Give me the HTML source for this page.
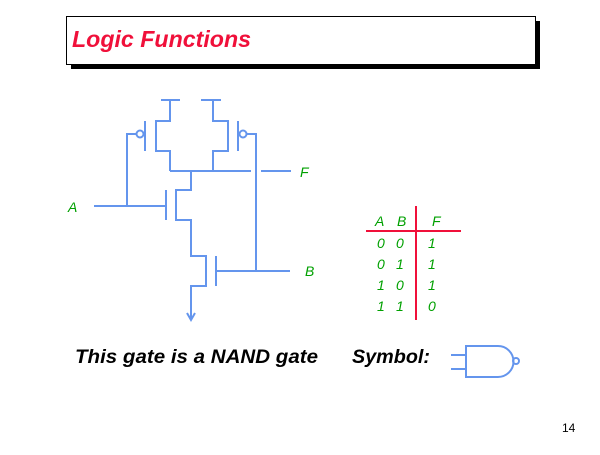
<!DOCTYPE html>
<html><head><style>
body{margin:0;width:600px;height:450px;background:#fff;overflow:hidden}
</style></head><body>
<svg width="600" height="450" xmlns="http://www.w3.org/2000/svg" font-family="Liberation Sans, sans-serif">
<rect x="71" y="21" width="469" height="48" fill="#000"/>
<rect x="66.5" y="16.5" width="469" height="48" fill="#fff" stroke="#000" stroke-width="1"/>
<text x="72" y="47" font-size="23" font-weight="bold" font-style="italic" fill="#f0103a" textLength="179" lengthAdjust="spacingAndGlyphs">Logic Functions</text>
<g stroke="#6495ed" stroke-width="2" fill="none">
<path d="M161 100H180M201 100H221"/>
<path d="M170 100V121H156V151H170V171"/>
<path d="M145 121V151"/>
<circle cx="140" cy="134" r="3.5"/>
<path d="M136 134H127V206"/>
<path d="M213 100V121H228V151H213V171"/>
<path d="M238 121V151"/>
<circle cx="243" cy="134" r="3.5"/>
<path d="M247 134H256V271"/>
<path d="M170 171H251M261 171H291"/>
<path d="M94 206H165M166 190V220"/>
<path d="M191 171V190H176V220H191V256H206V286H191V318"/>
<path d="M216 256V286M216 271H290"/>
<path d="M187 313L191 320L195 313"/>
<path d="M451 355H466M451 369H466"/>
<path d="M466 346V377H498A15.5 15.5 0 0 0 498 346Z"/>
<circle cx="516" cy="361" r="3"/>
</g>
<g fill="#00a000" font-size="14" font-style="italic">
<text x="68" y="212">A</text>
<text x="300" y="177">F</text>
<text x="305" y="276">B</text>
<text x="375" y="226">A</text><text x="397" y="226">B</text><text x="432" y="226">F</text>
<text x="377" y="248">0</text><text x="396" y="248">0</text><text x="428" y="248">1</text>
<text x="377" y="269">0</text><text x="396" y="269">1</text><text x="428" y="269">1</text>
<text x="377" y="290">1</text><text x="396" y="290">0</text><text x="428" y="290">1</text>
<text x="377" y="311">1</text><text x="396" y="311">1</text><text x="428" y="311">0</text>
</g>
<g stroke="#f0103a" stroke-width="2"><path d="M416 206V320M366 231H461"/></g>
<text x="75" y="363" font-size="19" font-weight="bold" font-style="italic" textLength="243" lengthAdjust="spacingAndGlyphs">This gate is a  NAND gate</text>
<text x="352" y="363" font-size="19" font-weight="bold" font-style="italic" textLength="78" lengthAdjust="spacingAndGlyphs">Symbol:</text>
<text x="562" y="432" font-size="12">14</text>
</svg>
</body></html>
